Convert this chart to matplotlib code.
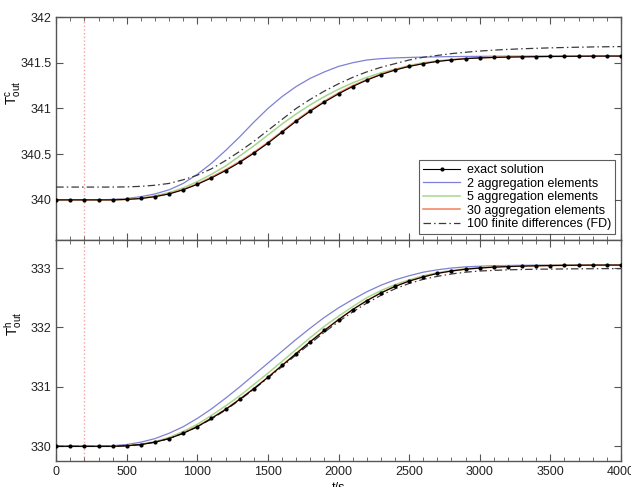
import matplotlib
matplotlib.use("Agg")
import matplotlib.pyplot as plt
from matplotlib.ticker import MultipleLocator

plt.rcParams['font.family'] = ['Liberation Sans', 'DejaVu Sans']
plt.rcParams['mathtext.default'] = 'regular'

t = list(range(0, 4001, 100))

# upper panel: T_out^c
top_exact = [340.00, 340.00, 340.00, 340.00, 340.00, 340.005, 340.015, 340.035, 340.065, 340.11,
             340.17, 340.24, 340.32, 340.41, 340.51, 340.62, 340.74, 340.86, 340.97, 341.07,
             341.16, 341.24, 341.31, 341.37, 341.42, 341.46, 341.49, 341.515, 341.53, 341.545,
             341.553, 341.558, 341.562, 341.565, 341.567, 341.569, 341.57, 341.571, 341.572, 341.573, 341.573]
top_2 = [340.00, 340.00, 340.00, 340.00, 340.005, 340.015, 340.035, 340.065, 340.11, 340.18,
         340.28, 340.40, 340.54, 340.69, 340.85, 341.00, 341.13, 341.24, 341.33, 341.40,
         341.46, 341.50, 341.53, 341.545, 341.553, 341.558, 341.562, 341.565, 341.567, 341.569,
         341.57, 341.571, 341.572, 341.572, 341.573, 341.573, 341.573, 341.573, 341.573, 341.573, 341.573]
top_5 = [340.00, 340.00, 340.00, 340.00, 340.00, 340.008, 340.02, 340.045, 340.08, 340.13,
         340.20, 340.28, 340.37, 340.48, 340.59, 340.71, 340.83, 340.94, 341.04, 341.13,
         341.21, 341.28, 341.34, 341.39, 341.43, 341.47, 341.50, 341.52, 341.535, 341.548,
         341.555, 341.56, 341.564, 341.567, 341.569, 341.57, 341.571, 341.572, 341.573, 341.573, 341.573]
top_30 = [340.00, 340.00, 340.00, 340.00, 340.00, 340.005, 340.016, 340.037, 340.068, 340.115,
          340.175, 340.25, 340.33, 340.42, 340.52, 340.63, 340.75, 340.87, 340.98, 341.08,
          341.17, 341.25, 341.315, 341.375, 341.425, 341.462, 341.492, 341.516, 341.532, 341.546,
          341.554, 341.559, 341.563, 341.565, 341.567, 341.569, 341.57, 341.571, 341.572, 341.573, 341.573]
top_fd = [340.14, 340.14, 340.14, 340.14, 340.14, 340.142, 340.148, 340.16, 340.18, 340.22,
          340.27, 340.34, 340.43, 340.53, 340.64, 340.76, 340.88, 341.00, 341.10, 341.19,
          341.27, 341.34, 341.40, 341.45, 341.49, 341.53, 341.56, 341.58, 341.60, 341.615,
          341.628, 341.638, 341.646, 341.653, 341.658, 341.663, 341.667, 341.67, 341.673, 341.675, 341.677]

# lower panel: T_out^h
bot_exact = [330.00, 330.00, 330.00, 330.00, 330.00, 330.01, 330.03, 330.07, 330.13, 330.22,
             330.33, 330.47, 330.62, 330.79, 330.97, 331.16, 331.36, 331.56, 331.76, 331.95,
             332.13, 332.30, 332.45, 332.58, 332.69, 332.78, 332.85, 332.91, 332.95, 332.98,
             333.00, 333.015, 333.025, 333.033, 333.038, 333.042, 333.045, 333.047, 333.049, 333.05, 333.05]
bot_2 = [330.00, 330.00, 330.00, 330.00, 330.01, 330.03, 330.07, 330.13, 330.22, 330.33,
         330.47, 330.63, 330.81, 331.00, 331.20, 331.40, 331.60, 331.80, 331.99, 332.17,
         332.33, 332.47, 332.60, 332.71, 332.80, 332.87, 332.93, 332.97, 333.00, 333.02,
         333.03, 333.038, 333.043, 333.046, 333.048, 333.049, 333.05, 333.05, 333.05, 333.05, 333.05]
bot_5 = [330.00, 330.00, 330.00, 330.00, 330.00, 330.012, 330.035, 330.08, 330.15, 330.25,
         330.37, 330.52, 330.68, 330.85, 331.04, 331.23, 331.43, 331.63, 331.83, 332.02,
         332.19, 332.35, 332.50, 332.62, 332.72, 332.80, 332.87, 332.92, 332.96, 332.99,
         333.01, 333.022, 333.03, 333.036, 333.04, 333.043, 333.046, 333.048, 333.049, 333.05, 333.05]
bot_30 = [330.00, 330.00, 330.00, 330.00, 330.00, 330.01, 330.031, 330.072, 330.133, 330.224,
          330.335, 330.475, 330.625, 330.795, 330.975, 331.165, 331.365, 331.565, 331.765, 331.955,
          332.135, 332.303, 332.453, 332.583, 332.692, 332.782, 332.852, 332.91, 332.95, 332.98,
          333.00, 333.015, 333.025, 333.033, 333.038, 333.042, 333.045, 333.047, 333.049, 333.05, 333.05]
bot_fd = [330.00, 330.00, 330.00, 330.00, 330.00, 330.01, 330.03, 330.07, 330.13, 330.22,
          330.33, 330.46, 330.61, 330.78, 330.96, 331.15, 331.34, 331.54, 331.73, 331.92,
          332.10, 332.26, 332.41, 332.54, 332.65, 332.74, 332.81, 332.86, 332.90, 332.93,
          332.95, 332.96, 332.97, 332.975, 332.98, 332.982, 332.985, 332.987, 332.988, 332.99, 332.99]

labels = ["exact solution", "2 aggregation elements", "5 aggregation elements",
          "30 aggregation elements", "100 finite differences (FD)"]
marker_time = 200

c_blue = "#7d80d6"
c_green = "#a6d68e"
c_red = "#f2805c"
c_fd = "#3a3a3a"
c_axis = "#555555"

fig = plt.figure(figsize=(6.31, 4.87), dpi=100)
ax1 = fig.add_axes([0.089, 0.507, 0.895, 0.458])
ax2 = fig.add_axes([0.089, 0.053, 0.895, 0.454], sharex=ax1)

for ax, ex, s2, s5, s30, fd in [(ax1, top_exact, top_2, top_5, top_30, top_fd),
                                (ax2, bot_exact, bot_2, bot_5, bot_30, bot_fd)]:
    ax.axvline(marker_time, color="#f4a3a3", linestyle=":", linewidth=1.0, zorder=1)
    ax.plot(t, s2, color=c_blue, lw=0.9, label=labels[1], zorder=3)
    ax.plot(t, s5, color=c_green, lw=1.1, label=labels[2], zorder=3)
    ax.plot(t, s30, color=c_red, lw=1.1, label=labels[3], zorder=3)
    ax.plot(t, fd, color=c_fd, lw=0.9, linestyle=(0, (6, 2.5, 1.2, 2.5)), label=labels[4], zorder=4)
    ax.plot(t, ex, color="black", lw=0.8, marker="o", markersize=2.0, label=labels[0], zorder=5)
    ax.set_xlim(0, 4000)
    ax.xaxis.set_major_locator(MultipleLocator(500))
    ax.xaxis.set_minor_locator(MultipleLocator(100))
    ax.tick_params(which="both", direction="in", top=True, right=True, color=c_axis,
                   labelsize=9, labelcolor="#222222")
    ax.tick_params(which="major", length=5)
    ax.tick_params(which="minor", length=3)
    for sp in ax.spines.values():
        sp.set_color(c_axis)
        sp.set_linewidth(1.0)

ax1.set_ylim(339.56, 342)
ax1.set_yticks([340, 340.5, 341, 341.5, 342])
ax1.set_yticklabels(["340", "340.5", "341", "341.5", "342"])
ax1.tick_params(labelbottom=False)
ax1.set_ylabel(r"$T_{out}^{c}$", fontsize=10)
ax1.yaxis.set_label_coords(-0.057, 0.66)

ax2.set_ylim(329.75, 333.47)
ax2.set_yticks([330, 331, 332, 333])
ax2.set_ylabel(r"$T_{out}^{h}$", fontsize=10)
ax2.yaxis.set_label_coords(-0.057, 0.62)
ax2.set_xlabel("t/s", fontsize=9, labelpad=3)

h, l = ax1.get_legend_handles_labels()
order = [l.index(x) for x in labels]
leg = ax1.legend([h[i] for i in order], [l[i] for i in order], loc="lower right",
                 fontsize=9, frameon=True, fancybox=False, edgecolor="#333333",
                 borderaxespad=0.5, handlelength=3.0, labelspacing=0.12,
                 borderpad=0.3, handletextpad=0.5)
leg.get_frame().set_linewidth(0.8)

fig.savefig("out.png", dpi=100)
